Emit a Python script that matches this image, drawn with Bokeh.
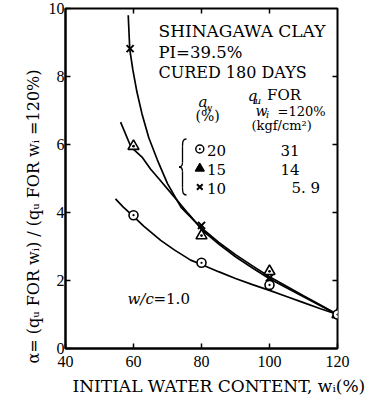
import math
from bokeh.plotting import figure
from bokeh.models import Range1d, FixedTicker, Label, Title
from bokeh.embed import file_html
from bokeh.resources import INLINE

# ---------------- data ----------------
# measured points, a_w = 20 %, 15 %, 10 %
w_pts_20 = [60, 80, 100, 120]
a_pts_20 = [3.92, 2.52, 1.87, 1.0]
w_pts_15 = [60, 80, 100, 120]
a_pts_15 = [5.95, 3.32, 2.27, 1.0]
w_pts_10 = [59, 80, 100, 120]
a_pts_10 = [8.82, 3.62, 2.08, 1.0]

# fitted curves, points
curve20_w = [54.7, 57.0, 59.6, 63.0, 68.0, 72.0, 76.8, 80.0, 85.0, 90.0, 95.0, 100.0, 105.0, 110.0, 115.0, 120.0]
curve20_a = [4.40, 4.16, 3.92, 3.60, 3.18, 2.90, 2.60, 2.47, 2.26, 2.06, 1.88, 1.71, 1.53, 1.35, 1.17, 1.00]
curve15_w = [56.2, 59.3, 62.5, 65.0, 67.9, 72.9, 76.0, 78.7, 80.0, 85.0, 90.0, 95.0, 100.0, 105.0, 110.0, 115.0, 120.0]
curve15_a = [6.66, 5.92, 5.63, 5.28, 4.94, 4.35, 3.98, 3.67, 3.50, 3.08, 2.70, 2.37, 2.05, 1.79, 1.52, 1.26, 1.00]
curve10_w = [58.45, 58.9, 59.8, 61.0, 62.5, 64.5, 67.0, 70.0, 74.0, 79.2, 80.0, 85.0, 90.0, 95.0, 100.0, 105.0, 110.0, 115.0, 120.0]
curve10_a = [9.80, 8.80, 8.20, 7.55, 6.90, 6.20, 5.55, 4.85, 4.15, 3.62, 3.55, 3.13, 2.76, 2.43, 2.11, 1.83, 1.55, 1.28, 1.00]

x_ticks = [40, 60, 80, 100, 120]
y_ticks = [0, 2, 4, 6, 8, 10]
top_ticks = [60, 80, 100]
right_ticks = [2, 4, 6, 8]

legend_aw = ["20", "15", "10"]
legend_qu = ["31", "14", "5. 9"]

SERIF = "DejaVu Serif"
NUMF = "Liberation Serif"

p = figure(width=374, height=401, x_range=Range1d(40, 120), y_range=Range1d(0, 10),
           output_backend="svg", toolbar_location=None,
           min_border_left=65, min_border_right=37, min_border_top=8, min_border_bottom=53)
p.xgrid.grid_line_color = None
p.ygrid.grid_line_color = None
p.outline_line_color = "black"
p.outline_line_width = 2
p.outline_line_alpha = 1.0
p.background_fill_color = "white"
p.border_fill_color = "white"

for ax, ticks in ((p.xaxis, x_ticks), (p.yaxis, y_ticks)):
    ax.ticker = FixedTicker(ticks=ticks)
    ax.axis_line_width = 2
    ax.axis_line_color = "black"
    ax.major_tick_in = 5
    ax.major_tick_out = 0
    ax.major_tick_line_width = 1.5
    ax.minor_tick_line_color = None
    ax.major_label_text_font = NUMF
    ax.major_label_text_font_size = "16px"
    ax.major_label_text_color = "black"
p.xaxis.major_label_standoff = 7
p.yaxis.major_label_standoff = 1

xt = Title(text="INITIAL WATER CONTENT, wᵢ(%)", align="left", offset=7,
           text_font=SERIF, text_font_size="17px", text_font_style="normal",
           text_color="black", standoff=8)
p.add_layout(xt, "below")
yt = Title(text="α= (qᵤ FOR wᵢ) / (qᵤ FOR wᵢ =120%)", align="left", offset=-15,
           text_font=SERIF, text_font_size="16px", text_font_style="normal",
           text_color="black", standoff=5)
p.add_layout(yt, "left")

# inward ticks on the top and right edges (half of each dash is clipped by the frame)
p.scatter([x_ticks[-1]] * len(right_ticks), right_ticks, marker="dash", size=10,
          line_color="black", line_width=1.5)
p.scatter(top_ticks, [y_ticks[-1]] * len(top_ticks), marker="dash", angle=math.pi / 2,
          size=10, line_color="black", line_width=1.5)

# curves
for cw, ca in ((curve20_w, curve20_a), (curve15_w, curve15_a), (curve10_w, curve10_a)):
    p.line(cw, ca, line_color="black", line_width=1.7)

# markers
p.scatter(w_pts_10, a_pts_10, marker="x", size=10, line_color="black", line_width=2)
p.scatter(w_pts_15, a_pts_15, marker="triangle_dot", size=11, fill_color="white",
          line_color="black", line_width=1.6)
p.scatter(w_pts_20, a_pts_20, marker="circle_dot", size=9, fill_color="white",
          line_color="black", line_width=1.6)

# helpers: reference pixel position -> data coordinates (for annotation placement)
def W(px):
    return 40 + (px - 65) / 3.4

def A(py):
    return (348 - py) / 34.0

def lab(txt, px, py, size="16px", style="normal", align="left", font=SERIF):
    p.add_layout(Label(x=W(px), y=A(py), text=txt, text_font=font, text_font_size=size,
                       text_font_style=style, text_align=align, text_baseline="middle",
                       text_color="black"))

lab("SHINAGAWA CLAY", 158, 30, size="17px")
lab("PI=39.5%", 158, 52, size="16.5px")
lab("CURED 180 DAYS", 158, 72, size="16px")

lab("q", 252, 95, size="15px", style="italic", align="center")
lab("u", 257.5, 99.5, size="10px", style="italic", align="center")
lab("FOR", 266.5, 94, size="15px")
lab("w", 261, 110.5, size="14px", style="italic", align="center")
lab("i", 267, 114, size="10px", style="italic", align="center")
lab("=120%", 277, 110.5, size="13px")
lab("(kgf/cm²)", 251, 125, size="13px")

lab("a", 202.5, 101, size="15px", style="italic", align="center")
lab("w", 207.5, 106.5, size="10px", style="italic", align="center")
lab("(%)", 195, 115.5, size="14px")

# curly bracket grouping the legend rows
bx = [W(186), W(182), W(182), W(178.5)]
by = [A(138.5), A(146), A(162), A(166.5)]
p.bezier(x0=[bx[0], bx[1]], y0=[by[0], by[2]], x1=[bx[1], bx[3]], y1=[by[1], by[3]],
         cx0=[W(182.5), bx[1]], cy0=[A(138.5), A(165)], cx1=[bx[1], W(180.5)], cy1=[A(141), by[3]],
         line_color="black", line_width=1.3)
p.bezier(x0=[bx[3], W(182)], y0=[by[3], A(187)], x1=[W(182), bx[0]], y1=[A(171), A(194.5)],
         cx0=[W(180.5), W(182)], cy0=[by[3], A(192)], cx1=[W(182), W(182.5)], cy1=[A(168), A(194.5)],
         line_color="black", line_width=1.3)
p.segment(x0=[bx[1], W(182)], y0=[by[1], A(171)], x1=[bx[2], W(182)], y1=[by[2], A(187)],
          line_color="black", line_width=1.3)

leg_y = [148.5, 168, 186.5]
p.scatter([W(199.3)], [A(leg_y[0])], marker="circle_dot", size=8, fill_color="white",
          line_color="black", line_width=1.5)
p.scatter([W(199.3)], [A(leg_y[1])], marker="triangle", size=9, fill_color="black",
          line_color="black", line_width=1.2)
p.scatter([W(199.3)], [A(leg_y[2])], marker="x", size=8, line_color="black", line_width=2)
for i in range(3):
    lab(legend_aw[i], 206.5, leg_y[i] + 1, size="15px")
lab(legend_qu[0], 280, leg_y[0] + 1, size="15px")
lab(legend_qu[1], 280, leg_y[1] + 1, size="15px")
lab(legend_qu[2], 291, leg_y[2] + 0.5, size="15px")

lab("w/c", 127, 298, size="15px", style="italic")
lab("=1.0", 153, 298, size="15px")

open("out.html", "w").write(file_html(p, INLINE))
